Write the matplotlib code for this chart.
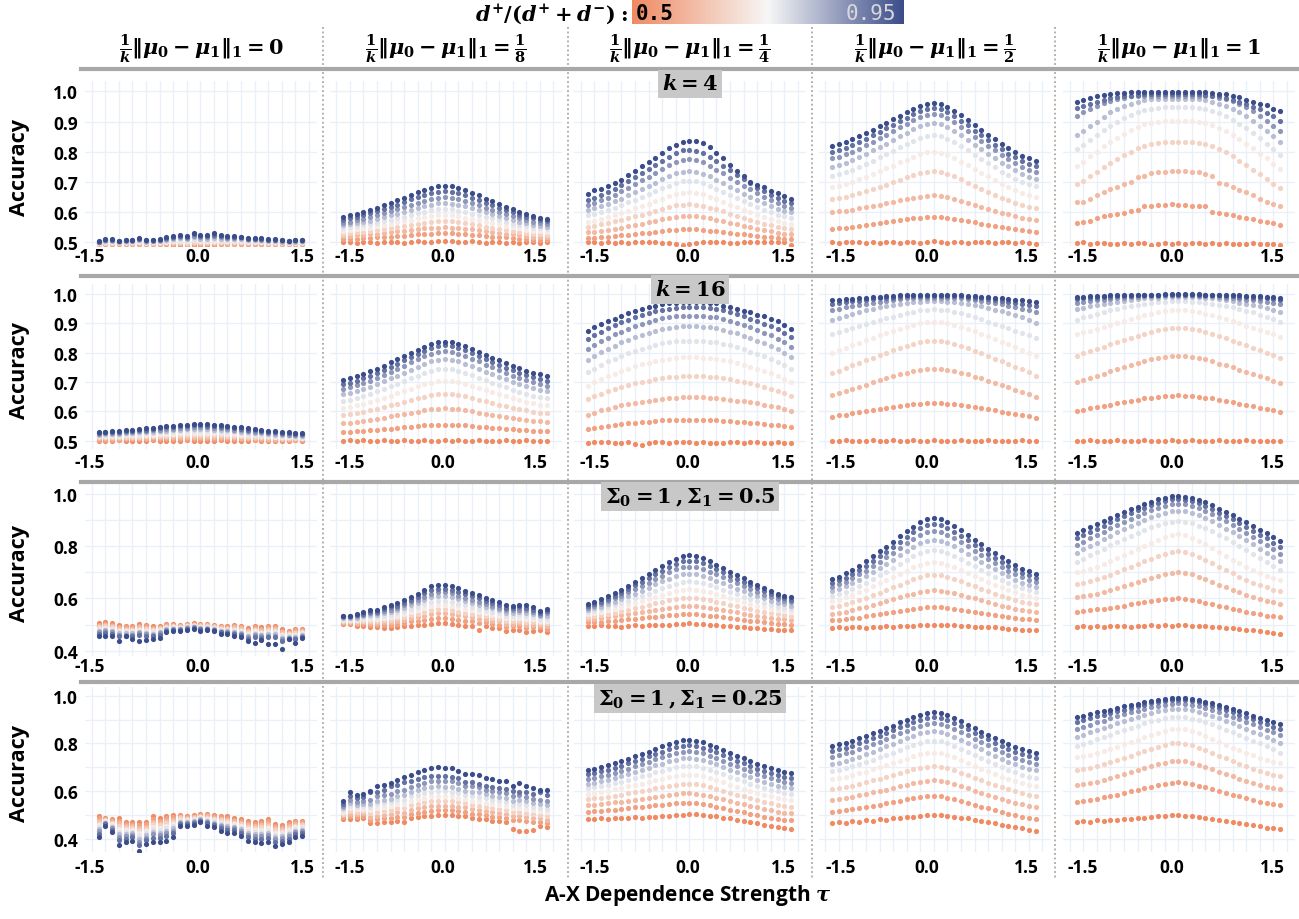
import numpy as np
import matplotlib
matplotlib.use("Agg")
import matplotlib.pyplot as plt
from matplotlib.colors import LinearSegmentedColormap
from matplotlib.lines import Line2D
from matplotlib.transforms import blended_transform_factory

plt.rcParams['font.family'] = ['Open Sans', 'DejaVu Sans']
plt.rcParams['mathtext.fontset'] = 'custom'
plt.rcParams['mathtext.rm'] = 'DejaVu Serif:bold'
plt.rcParams['mathtext.it'] = 'DejaVu Serif:italic:bold'
plt.rcParams['mathtext.bf'] = 'DejaVu Serif:bold'
plt.rcParams['axes.unicode_minus'] = False

# ---------------- data ----------------
tau = [-1.5, -1.4, -1.3, -1.2, -1.1, -1.0, -0.9, -0.8, -0.7, -0.6, -0.5, -0.4, -0.3, -0.2, -0.1,
       0.0, 0.1, 0.2, 0.3, 0.4, 0.5, 0.6, 0.7, 0.8, 0.9, 1.0, 1.1, 1.2, 1.3, 1.4, 1.5]
ratios = [0.5, 0.55, 0.6, 0.65, 0.7, 0.75, 0.8, 0.85, 0.9, 0.95]
col_titles = [r'$\frac{1}{k}\Vert\mu_0-\mu_1\Vert_1=0$',
              r'$\frac{1}{k}\Vert\mu_0-\mu_1\Vert_1=\frac{1}{8}$',
              r'$\frac{1}{k}\Vert\mu_0-\mu_1\Vert_1=\frac{1}{4}$',
              r'$\frac{1}{k}\Vert\mu_0-\mu_1\Vert_1=\frac{1}{2}$',
              r'$\frac{1}{k}\Vert\mu_0-\mu_1\Vert_1=1$']
row_labels = [r'$k=4$', r'$k=16$', r'$\Sigma_0=1\,,\Sigma_1=0.5$', r'$\Sigma_0=1\,,\Sigma_1=0.25$']
x_ticklabels = ['-1.5', '0.0', '1.5']

# accuracy values x1000, one list per ratio (0.5 ... 0.95)
k4_d0 = [
    [494,495,495,496,495,494,495,495,494,495,493,492,492,490,492,492,492,492,493,493,494,494,495,495,495,495,494,495,495,494,494],
    [495,496,496,497,496,495,496,496,495,496,495,494,494,493,494,494,494,494,494,495,495,495,496,496,496,496,495,496,496,495,495],
    [496,498,497,498,497,497,498,497,497,497,497,497,497,496,498,497,497,497,497,497,497,497,498,498,498,497,497,497,497,497,497],
    [497,499,499,499,499,499,500,498,499,499,500,500,501,499,502,500,500,501,500,500,500,500,500,500,500,499,499,498,498,498,498],
    [498,501,501,500,500,500,502,499,500,501,502,503,505,503,506,504,504,505,504,503,503,503,502,502,502,501,501,500,499,499,500],
    [499,503,503,501,502,502,505,501,501,503,505,507,509,506,511,508,508,510,508,507,507,506,505,505,504,503,503,501,500,501,501],
    [500,505,505,502,503,503,507,502,503,505,508,510,513,510,516,512,512,515,512,510,510,510,507,507,506,505,505,502,502,502,503],
    [501,507,507,503,505,505,510,504,505,507,511,514,517,514,521,516,516,520,516,514,514,513,510,510,509,507,507,504,503,504,505],
    [502,509,509,504,507,507,512,506,507,509,514,517,521,517,526,520,520,525,520,518,517,516,512,512,511,509,509,506,504,506,507],
    [503,511,511,505,508,509,514,508,509,511,517,520,525,520,530,524,524,530,524,522,520,519,514,514,513,511,511,508,505,508,509],
]
k4_d18 = [
    [500,501,499,500,501,498,500,502,500,499,501,503,500,502,504,503,504,502,501,503,500,499,501,500,498,500,499,501,500,499,500],
    [510,511,512,513,514,516,517,519,521,522,524,526,527,529,530,530,530,528,527,525,523,521,519,517,516,514,512,510,509,508,507],
    [520,521,523,525,527,529,531,534,536,538,541,543,546,548,549,550,549,548,545,543,540,537,534,531,529,526,523,521,519,517,516],
    [529,531,533,535,538,541,544,547,551,554,558,561,564,567,569,570,569,567,564,560,557,552,549,545,542,538,535,532,529,527,525],
    [538,540,543,546,549,553,557,561,566,570,574,579,583,586,589,590,589,586,582,578,573,568,564,559,555,550,546,542,539,536,534],
    [547,550,553,556,561,565,570,575,580,585,591,596,601,606,609,610,609,605,601,595,590,584,579,573,568,562,558,553,549,546,543],
    [556,559,563,567,572,577,583,589,595,601,608,614,620,625,629,630,628,624,619,613,606,599,593,587,580,574,568,563,558,554,551],
    [565,568,573,578,584,590,596,603,610,617,625,631,638,644,648,650,648,644,637,630,623,615,608,601,593,586,580,574,568,564,560],
    [575,579,584,589,596,603,610,618,625,633,642,649,657,663,668,670,668,663,656,648,640,631,623,615,607,599,592,585,579,574,570],
    [585,589,594,600,608,615,623,631,640,648,657,665,674,681,686,688,686,680,672,664,655,645,636,627,618,609,601,594,587,581,577],
]
k4_d14 = [
    [502,502,498,500,498,500,498,500,500,502,500,498,498,495,492,496,498,500,502,500,502,498,498,500,500,500,500,502,500,500,492],
    [514,515,517,519,521,523,525,528,530,532,535,537,540,542,543,544,543,542,539,537,534,531,528,526,523,521,518,516,514,512,511],
    [533,535,538,541,545,549,553,558,562,567,572,576,580,584,587,588,587,584,579,575,570,564,559,554,550,545,540,536,532,529,527],
    [552,555,559,563,569,574,580,586,592,598,605,611,617,622,625,627,625,621,615,609,602,594,588,581,574,567,561,556,551,546,543],
    [568,572,577,583,590,596,604,612,620,628,637,644,652,659,664,666,664,659,651,643,634,625,616,608,599,591,583,576,570,564,560],
    [590,595,600,607,615,623,632,641,650,660,670,679,688,696,702,704,702,695,687,677,667,656,646,636,627,617,608,599,592,586,581],
    [608,613,620,627,636,645,656,666,676,687,698,709,719,728,734,737,734,727,718,707,696,683,672,661,650,639,629,620,611,605,599],
    [625,631,639,648,658,669,681,693,705,717,731,743,755,765,773,776,773,765,753,741,728,713,700,687,675,662,650,639,629,621,615],
    [641,648,656,666,678,689,702,716,729,742,757,770,784,795,804,807,803,795,782,768,754,738,724,710,695,681,669,657,646,637,630],
    [660,674,676,687,696,707,723,737,752,765,778,796,811,822,831,835,834,829,815,795,778,756,737,719,701,690,682,671,663,654,643],
]
k4_d12 = [
    [500,498,501,500,502,499,500,497,501,500,498,500,502,499,500,503,500,498,500,501,499,500,502,500,499,501,500,498,500,497,495],
    [545,547,549,551,554,557,560,563,566,569,573,576,579,582,584,585,584,582,578,574,570,566,562,558,554,550,546,543,540,537,535],
    [600,602,605,608,612,616,620,625,629,634,639,643,647,651,654,655,653,649,644,637,631,624,617,611,605,598,593,587,582,578,575],
    [642,646,650,656,662,669,676,684,691,699,707,715,722,729,733,735,733,726,718,708,698,687,677,667,658,648,639,630,623,617,612],
    [683,688,694,701,709,717,726,736,745,754,765,774,784,792,798,800,797,790,779,767,755,742,730,718,706,694,683,673,664,656,650],
    [720,725,732,740,750,759,770,781,792,802,815,825,836,846,852,855,852,843,831,818,804,789,775,762,748,734,722,711,700,692,685],
    [750,756,763,772,782,792,804,815,827,838,852,863,875,885,892,895,891,882,869,854,840,823,808,793,778,764,751,738,727,717,710],
    [778,784,791,800,810,821,832,844,856,868,881,893,904,915,922,925,921,912,898,883,867,850,835,819,804,789,775,762,750,741,733],
    [800,806,813,822,832,842,854,865,877,888,902,913,925,935,942,945,941,932,918,903,887,870,854,839,823,808,794,781,769,760,752],
    [820,826,833,841,851,861,873,884,895,907,919,931,942,952,959,962,958,949,935,920,904,887,872,856,841,826,812,799,787,778,770],
]
k4_d1 = [
    [497,500,495,498,497,496,495,497,493,498,497,492,493,497,495,497,496,497,497,496,497,494,497,495,495,496,497,493,495,494,490],
    [564,568,572,579,586,590,594,597,605,608,621,621,624,624,627,624,624,621,621,621,601,597,594,590,583,579,577,572,568,564,558],
    [632,634,644,655,666,677,682,693,701,715,721,728,732,734,735,737,735,734,732,726,721,696,693,682,674,666,655,644,632,627,621],
    [693,704,719,732,748,763,776,789,800,811,820,825,829,831,831,831,831,831,829,825,818,809,798,785,770,756,740,726,710,693,679],
    [754,767,785,800,818,831,845,859,872,883,891,896,900,903,903,903,903,903,900,896,889,880,869,856,841,827,811,794,778,759,743],
    [809,823,840,855,872,886,899,911,922,930,938,942,946,947,947,947,947,947,946,942,936,928,917,905,891,877,862,845,827,809,790],
    [855,869,886,900,916,930,941,951,959,966,970,973,975,975,975,975,975,975,973,970,966,959,950,941,930,917,903,886,869,851,831],
    [919,930,941,952,961,969,975,979,983,985,986,986,986,986,986,986,986,986,986,985,983,979,975,967,958,947,934,919,903,886,869],
    [944,952,958,966,972,977,980,983,986,988,990,991,992,992,992,992,992,991,990,988,986,983,978,972,965,957,948,940,928,917,903],
    [964,971,977,983,988,991,993,995,997,997,997,997,997,997,997,997,997,997,997,997,994,992,990,985,980,972,964,958,953,942,934],
]
k16_d0 = [
    [500,499,500,501,500,499,500,500,501,500,499,500,500,501,500,500,499,500,501,500,500,499,500,501,500,500,499,500,500,501,500],
    [504,504,504,504,505,505,505,505,506,506,506,506,507,507,507,507,507,507,506,506,505,505,505,504,504,503,503,503,502,502,502],
    [508,508,508,509,509,509,510,510,511,511,512,512,512,513,513,513,513,512,512,511,511,510,509,509,508,507,507,506,506,505,505],
    [511,511,512,512,513,514,514,515,516,516,517,518,519,519,520,520,520,519,518,517,516,515,514,513,512,511,511,510,509,508,508],
    [515,515,516,517,518,518,519,520,521,522,523,524,525,526,527,527,527,526,525,523,522,520,519,518,516,515,514,513,512,511,510],
    [518,519,519,520,522,523,524,525,526,528,529,530,532,533,534,534,534,533,531,529,528,526,524,522,521,519,518,516,515,514,513],
    [521,522,523,524,525,527,528,530,531,533,534,536,537,539,540,540,540,538,537,535,533,531,529,527,525,523,521,520,518,517,516],
    [524,525,526,527,529,530,532,534,536,537,539,541,543,544,546,546,545,544,542,540,538,535,533,531,529,527,525,523,521,520,519],
    [527,528,529,531,533,534,536,538,540,542,545,547,549,550,552,552,551,550,548,545,543,540,538,536,533,531,529,527,525,523,522],
    [530,531,532,534,536,538,540,542,544,546,549,551,553,555,556,557,556,555,553,550,547,545,542,539,537,534,532,530,528,526,525],
]
k16_d18 = [
    [500,502,499,501,498,500,503,499,500,501,498,500,502,500,499,501,500,502,499,500,501,499,500,498,501,500,499,502,500,499,498],
    [530,531,532,534,536,537,539,541,543,545,548,550,552,553,555,555,555,553,552,550,548,546,544,542,541,539,537,535,534,533,532],
    [560,562,565,568,571,575,579,583,587,591,595,599,603,607,609,610,609,607,604,600,596,592,588,585,581,577,574,571,568,566,564],
    [587,590,594,598,603,608,614,620,626,632,638,644,650,655,659,660,659,655,651,645,640,634,629,623,618,612,608,603,599,596,593],
    [612,616,620,626,632,639,646,654,661,669,677,685,692,698,703,705,703,699,693,686,680,672,665,658,651,645,639,633,628,623,620],
    [636,640,646,652,660,668,676,685,694,702,712,721,730,737,743,745,743,738,731,723,715,706,698,690,682,674,667,660,654,649,645],
    [658,663,669,676,684,693,702,712,722,731,742,752,761,770,776,778,776,770,763,754,745,735,726,718,709,700,692,685,678,672,668],
    [677,682,689,696,705,714,724,735,745,755,767,777,787,796,802,805,803,797,789,779,770,759,750,741,731,722,714,706,699,693,688],
    [693,698,705,713,722,731,742,752,763,774,785,796,807,816,822,825,823,817,808,799,789,778,769,759,749,740,731,723,716,710,705],
    [708,713,720,728,737,746,756,767,777,787,799,809,820,829,835,838,836,830,822,812,803,793,783,774,765,756,748,739,732,727,722],
]
k16_d14 = [
    [492,494,494,494,493,493,494,490,487,493,494,494,493,494,495,494,493,497,492,492,493,494,494,493,494,494,493,493,494,492,492],
    [540,544,547,551,553,556,559,561,563,565,567,569,569,570,571,571,571,571,570,569,568,567,565,563,561,559,557,554,552,549,545],
    [589,596,603,609,614,620,624,629,633,637,640,643,645,647,648,648,648,648,647,645,643,640,637,634,631,627,623,619,614,608,602],
    [642,651,660,669,676,683,689,695,701,705,710,714,716,718,720,720,720,719,718,716,713,709,705,700,695,689,683,677,670,662,653],
    [688,700,710,721,729,738,746,753,760,766,772,776,779,782,784,784,784,783,781,779,775,770,764,759,752,745,737,730,721,711,699],
    [733,746,758,770,779,789,798,806,814,820,827,832,836,839,841,841,841,840,838,835,830,825,819,812,804,796,788,779,769,758,744],
    [775,789,801,814,824,835,844,853,861,868,875,881,884,888,890,890,890,889,887,884,878,872,866,858,850,841,832,822,812,799,784],
    [813,827,839,851,862,872,881,890,898,905,911,917,920,924,926,926,926,925,923,920,914,908,902,895,886,878,868,859,848,836,821],
    [847,860,872,884,893,903,912,920,928,934,941,946,950,953,955,955,955,954,952,949,944,938,932,924,916,908,899,890,880,867,853],
    [875,887,898,909,915,926,934,943,949,955,960,966,968,969,972,972,972,972,969,968,960,955,949,943,938,928,924,915,907,895,881],
]
k16_d12 = [
    [500,499,501,500,498,500,501,499,500,502,500,499,501,500,500,502,500,499,500,501,500,498,500,501,499,500,500,499,501,500,498],
    [582,586,589,593,597,601,604,608,611,615,618,621,624,626,628,628,628,626,624,621,618,614,611,607,603,599,595,591,587,583,578],
    [655,662,669,677,684,691,699,706,713,719,726,732,736,741,744,745,744,741,737,732,726,718,712,705,697,689,682,674,667,659,650],
    [730,739,748,757,766,775,783,792,800,808,816,824,830,835,839,840,839,835,830,823,816,807,799,790,780,771,762,752,743,733,722],
    [800,808,817,826,834,843,851,859,867,875,882,889,895,900,904,905,904,900,895,889,882,873,865,856,847,838,829,819,810,800,790],
    [862,869,876,883,890,897,904,911,917,923,930,935,940,944,947,948,947,944,940,934,928,921,914,906,899,891,883,875,867,859,850],
    [910,918,925,932,938,944,949,954,959,963,967,970,972,974,975,975,975,974,973,971,967,962,958,953,947,941,934,927,920,911,900],
    [945,950,955,960,963,967,971,974,977,980,982,985,986,987,988,988,988,987,986,985,982,979,976,973,969,965,960,955,950,944,937],
    [965,968,972,975,977,980,982,985,987,988,990,992,993,993,994,994,994,994,993,992,990,988,986,983,980,977,974,971,967,963,958],
    [978,980,982,984,986,988,989,991,992,993,995,995,996,997,997,997,997,997,996,996,994,993,991,990,988,986,983,981,979,976,972],
]
k16_d1 = [
    [499,500,502,500,499,500,501,500,498,500,501,499,500,500,502,500,499,501,500,499,500,502,500,499,500,501,500,498,500,500,499],
    [602,606,610,615,619,623,628,632,636,640,644,647,650,653,654,655,654,653,650,647,644,639,635,631,626,622,617,613,608,603,598],
    [700,707,714,722,729,736,744,751,758,764,771,777,781,786,789,790,789,786,782,777,771,763,757,750,742,734,727,719,712,704,695],
    [790,798,805,813,821,828,836,844,851,857,865,871,876,881,884,885,884,881,876,871,864,856,849,841,833,825,817,808,800,791,782],
    [862,869,875,882,889,896,902,909,915,921,927,933,937,941,944,945,944,941,937,932,927,920,914,907,900,892,885,878,871,863,855],
    [912,920,926,933,939,945,950,955,959,963,967,970,972,974,975,975,975,974,973,971,967,963,959,954,948,943,937,930,923,915,905],
    [948,953,958,962,966,970,973,977,980,982,985,987,988,989,990,990,990,990,989,987,985,982,979,975,971,967,963,958,953,947,940],
    [970,973,976,979,981,983,985,987,989,990,992,993,994,995,995,995,995,995,994,993,992,990,988,986,984,981,979,976,973,969,965],
    [983,985,986,988,989,991,992,993,994,995,996,997,997,998,998,998,998,998,997,997,996,995,994,993,991,990,988,986,985,983,980],
    [990,991,992,993,994,995,995,996,997,997,998,998,998,999,999,999,999,999,999,998,998,997,996,996,995,994,993,992,991,990,988],
]
s05_d0 = [
    [505,509,505,498,496,496,502,498,493,496,502,502,498,502,505,502,502,498,496,496,498,496,486,496,489,496,496,483,477,483,483],
    [500,504,500,492,491,491,496,493,488,491,498,499,496,500,503,499,499,495,492,492,493,491,481,490,484,490,490,477,473,478,479],
    [494,498,494,486,485,485,490,487,483,486,495,496,493,497,500,497,497,493,489,488,489,486,475,484,478,484,484,471,469,472,474],
    [489,493,489,481,480,480,485,482,478,482,491,493,490,495,498,494,494,490,485,485,484,481,470,479,473,478,478,465,464,467,470],
    [484,488,484,476,475,475,480,477,474,478,488,490,488,493,496,492,492,488,482,481,481,477,465,474,468,473,473,460,461,462,466],
    [480,484,480,471,471,471,475,473,470,474,485,487,486,491,494,490,490,486,479,478,477,473,461,469,464,468,468,455,457,458,463],
    [475,479,475,466,466,466,470,468,465,470,482,485,484,489,492,488,488,484,476,475,473,468,456,464,459,463,463,450,454,453,459],
    [471,475,471,462,462,462,466,464,461,466,479,482,482,487,490,485,485,481,473,472,469,464,452,460,455,458,458,445,450,449,456],
    [465,469,465,456,456,456,460,458,456,461,476,479,480,484,487,483,483,479,470,468,465,459,446,454,449,452,452,439,446,443,451],
    [457,457,457,438,457,445,438,442,445,447,470,474,477,480,483,477,479,477,464,464,457,451,438,429,442,426,426,406,445,429,447],
]
s05_d18 = [
    [502,502,496,496,490,490,486,486,490,493,496,498,498,502,506,506,502,498,496,496,480,493,486,486,477,480,480,473,477,480,473],
    [506,506,502,503,499,499,498,498,503,507,512,515,517,522,526,526,523,518,515,513,507,508,501,500,491,493,493,487,489,490,485],
    [510,510,507,509,507,507,508,509,514,519,525,529,533,540,544,544,540,535,531,528,522,521,514,512,502,504,505,500,500,499,496],
    [514,514,512,515,514,514,517,519,524,530,537,542,548,556,560,560,556,550,546,542,536,533,526,523,513,514,515,511,510,507,505],
    [517,517,517,520,522,522,526,529,534,541,549,555,563,572,576,576,573,566,560,556,549,545,538,534,524,524,526,522,520,515,515],
    [521,521,522,526,528,528,534,538,543,552,560,567,577,586,591,591,587,580,574,568,561,556,549,543,534,533,535,532,529,522,523],
    [524,524,527,532,536,536,544,548,554,564,574,581,593,604,608,608,605,597,590,583,576,569,562,555,546,544,547,544,539,531,534],
    [528,528,531,537,543,543,552,557,564,574,585,593,607,618,623,623,620,611,603,595,588,579,573,565,555,554,556,555,548,538,543],
    [531,531,536,542,549,549,561,566,573,584,596,605,620,633,637,637,634,625,617,608,601,590,584,575,565,563,566,565,557,546,551],
    [534,534,540,547,556,556,569,575,582,594,607,617,634,647,652,652,649,639,630,620,613,601,595,585,575,572,575,575,566,553,560],
]
s05_d14 = [
    [495,493,497,494,496,492,495,498,496,499,497,500,498,502,503,505,504,502,500,498,496,494,492,490,488,486,484,483,480,481,478],
    [508,509,511,513,515,517,520,522,525,528,530,533,536,538,539,540,539,537,534,531,528,524,521,518,515,512,509,506,504,502,500],
    [520,522,525,528,531,535,539,543,548,552,556,561,565,568,571,572,571,568,564,560,556,551,547,542,538,534,530,526,523,520,518],
    [530,533,537,541,546,551,557,563,569,575,581,587,593,598,602,603,602,598,593,588,582,576,570,565,559,553,548,544,539,536,533],
    [540,544,549,554,561,568,575,583,590,598,607,614,622,628,633,635,633,629,623,616,609,601,594,587,580,573,566,560,555,551,547],
    [548,553,559,566,574,582,591,601,610,619,630,639,649,657,663,665,663,658,650,642,634,624,616,607,599,590,583,576,569,564,560],
    [557,563,569,578,587,597,608,619,630,641,654,665,676,685,692,695,693,686,678,668,658,647,638,628,618,608,600,591,584,578,573],
    [565,571,579,589,600,611,623,636,648,661,675,687,700,711,719,722,719,712,703,692,681,669,658,647,636,625,615,606,597,590,585],
    [572,579,588,598,610,622,636,650,664,678,693,707,721,733,742,745,742,735,724,712,700,687,675,663,651,639,628,618,609,601,595],
    [580,587,597,608,621,634,648,663,678,693,710,724,739,752,761,765,762,754,743,730,717,703,690,677,664,651,640,629,619,611,605],
]
s05_d12 = [
    [488,490,486,489,491,488,492,490,493,491,494,496,495,498,499,500,499,497,498,495,494,492,491,489,490,487,485,483,481,480,478],
    [516,518,521,524,527,531,535,539,544,548,552,557,561,564,567,568,567,565,561,557,553,549,545,540,537,533,529,526,523,520,518],
    [542,546,550,556,562,568,575,583,590,597,605,612,619,626,630,632,630,626,620,614,607,600,593,586,580,573,567,561,556,552,549],
    [567,572,578,585,594,603,613,622,632,642,653,663,673,681,688,690,688,682,674,665,656,646,637,628,619,610,602,594,587,582,577],
    [590,596,604,613,623,634,646,658,670,682,695,707,719,730,737,740,737,730,721,710,699,686,675,664,653,642,632,623,614,608,602],
    [610,617,626,636,649,661,675,689,703,717,733,747,761,773,782,785,782,774,763,750,737,723,710,697,684,671,660,649,639,631,625],
    [628,636,646,658,671,685,701,717,732,748,766,782,797,811,821,825,821,812,800,785,771,755,740,726,712,697,685,672,661,652,645],
    [645,654,664,677,692,707,724,741,758,775,794,811,828,843,854,858,854,844,831,815,800,782,767,751,736,720,707,693,681,672,664],
    [660,669,680,694,710,725,743,761,779,797,818,836,854,869,881,885,881,871,856,840,824,805,789,772,756,739,725,711,698,688,680],
    [675,684,696,710,726,743,761,780,798,817,838,857,875,892,903,908,904,893,878,861,844,825,808,791,774,757,742,727,714,704,695],
]
s05_d1 = [
    [492,494,490,493,491,495,493,494,492,496,494,497,495,498,496,498,497,496,494,495,492,490,488,486,484,480,478,475,472,468,465],
    [550,552,555,558,561,565,569,573,577,581,585,589,593,597,599,600,599,595,590,584,578,572,566,560,555,549,544,539,534,531,528],
    [605,609,614,619,626,633,640,648,655,663,672,679,687,693,698,700,698,692,683,674,664,653,644,634,624,615,606,598,591,585,580],
    [655,660,666,674,683,691,701,711,721,731,743,753,763,771,778,780,777,769,759,747,734,721,709,696,684,672,661,651,642,634,628],
    [700,706,713,722,732,742,754,765,777,788,802,813,825,835,842,845,842,833,821,807,793,777,763,749,735,721,709,696,686,677,670],
    [740,752,765,778,790,803,815,828,839,850,862,872,880,888,893,895,893,888,879,869,858,843,830,816,801,786,771,756,741,725,708],
    [775,788,801,814,827,840,853,865,877,889,901,911,920,928,933,935,933,927,919,908,896,881,867,853,838,822,807,791,776,759,742],
    [805,818,830,843,856,869,881,894,905,916,928,938,947,955,960,962,960,954,946,935,924,909,896,881,866,851,836,820,805,789,772],
    [830,842,854,867,879,891,903,915,926,937,948,958,966,973,979,980,978,973,965,955,944,929,916,903,888,874,859,844,830,814,798],
    [850,861,873,885,896,908,919,930,941,951,961,971,979,986,991,992,990,985,977,968,958,944,932,919,905,891,878,864,850,835,820],
]
s025_d0 = [
    [495,487,484,487,470,470,472,470,495,487,498,500,500,498,500,505,505,500,498,495,487,484,477,472,477,484,463,459,470,477,477],
    [486,484,478,476,462,462,460,461,484,477,487,491,495,494,496,501,500,495,492,488,481,477,469,463,468,474,454,451,462,470,471],
    [477,481,473,465,453,455,448,452,473,467,477,481,491,490,492,498,495,490,485,481,475,469,460,455,458,464,445,443,453,463,464],
    [469,478,467,453,445,447,436,443,462,457,466,472,486,485,488,494,490,485,479,474,468,462,452,446,449,455,436,435,445,456,458],
    [460,475,462,442,436,439,424,434,451,447,456,463,481,481,484,491,485,480,473,467,462,455,443,438,439,445,427,427,436,449,452],
    [451,471,456,431,428,431,411,424,440,436,445,453,476,477,479,487,480,474,466,460,456,447,435,429,430,435,417,419,428,442,445],
    [442,468,450,420,420,424,399,415,430,426,435,444,472,473,475,484,476,469,460,453,450,440,427,420,421,425,408,411,420,435,439],
    [433,465,445,409,411,416,387,406,419,416,424,435,467,469,471,480,471,464,454,446,444,433,418,412,411,415,399,403,411,428,433],
    [423,462,438,395,401,407,373,395,406,404,412,424,461,464,466,476,465,458,446,438,436,424,408,401,400,404,388,393,401,420,425],
    [407,456,428,375,386,393,351,379,386,386,393,407,453,456,459,470,456,449,435,425,425,411,393,386,383,386,372,379,386,407,414],
]
s025_d18 = [
    [484,484,484,487,467,467,470,472,477,472,487,491,495,498,500,500,500,498,498,487,484,484,477,477,470,442,435,435,439,456,449],
    [491,495,494,497,481,483,486,488,494,491,505,510,515,518,520,520,520,517,515,506,503,501,494,494,487,481,479,476,473,471,465],
    [499,506,504,507,494,498,501,504,511,509,523,529,534,538,540,539,539,536,533,524,521,518,512,510,504,497,496,493,489,486,480],
    [506,517,514,517,508,514,517,521,528,528,541,547,554,558,560,559,559,554,550,543,540,535,529,527,521,512,514,509,504,501,496],
    [514,528,524,527,521,529,533,537,545,546,559,566,573,578,580,579,578,573,568,561,558,552,547,544,538,528,531,525,520,516,511],
    [521,540,534,538,535,545,549,553,562,565,578,585,593,598,600,599,598,592,585,580,577,570,564,561,556,544,548,542,535,531,527],
    [528,551,544,548,548,561,564,569,579,584,596,604,612,618,620,618,618,611,602,598,595,587,581,577,573,560,565,558,550,545,543],
    [537,564,556,560,564,579,583,589,599,606,617,626,635,642,644,642,641,633,623,620,617,607,602,597,593,579,586,577,569,563,561],
    [545,580,570,575,595,598,605,623,627,637,644,651,661,665,665,662,661,654,637,637,630,623,619,612,609,602,595,595,588,595,584],
    [558,595,584,588,602,623,627,634,647,658,668,679,690,698,700,697,696,686,672,672,669,655,651,644,641,623,634,623,612,605,605],
]
s025_d14 = [
    [485,482,488,484,487,490,486,491,489,494,492,497,495,500,502,505,503,501,498,495,490,486,480,475,470,465,460,455,450,446,440],
    [515,516,518,521,523,526,529,532,535,538,541,544,547,549,551,552,551,547,542,536,530,523,517,511,505,499,494,489,485,481,478],
    [542,544,547,550,553,557,561,565,569,573,577,581,585,589,591,592,590,586,580,573,567,559,552,545,538,532,526,520,515,510,507],
    [567,570,573,577,581,586,591,596,601,607,613,618,623,627,631,632,630,625,618,611,603,594,586,579,571,563,556,550,544,539,535],
    [590,593,597,602,608,613,620,626,632,639,646,652,659,664,668,670,668,662,655,646,638,628,619,611,602,593,586,578,572,566,562],
    [612,616,621,626,633,640,647,655,662,670,679,686,694,700,705,707,705,699,690,681,671,661,651,642,632,623,614,606,599,593,588],
    [632,636,642,648,656,663,672,681,689,698,708,716,725,732,738,740,737,731,722,712,702,690,680,670,659,649,640,631,624,617,612],
    [652,657,662,669,678,686,695,704,713,723,733,742,752,760,766,768,765,759,749,739,728,716,705,695,684,674,664,655,647,640,635],
    [672,677,683,690,699,707,717,726,736,746,757,766,776,785,791,793,790,783,774,763,752,739,728,717,706,695,685,676,667,661,655],
    [690,695,701,709,718,726,736,746,756,766,778,788,798,806,813,815,812,805,795,784,773,760,749,738,727,716,706,696,688,681,675],
]
s025_d12 = [
    [468,472,466,474,470,478,475,482,480,486,488,492,494,497,499,500,499,497,494,490,486,481,476,470,466,460,455,450,445,438,432],
    [515,518,521,525,529,534,539,544,549,555,561,566,571,575,579,580,578,573,567,559,552,543,535,528,520,513,506,499,494,489,485],
    [565,568,572,577,583,588,595,601,607,614,621,627,634,639,643,645,643,637,630,621,612,602,593,585,576,567,559,552,545,539,535],
    [610,614,619,624,631,638,645,653,660,668,677,684,692,698,703,705,703,696,688,678,668,656,646,636,626,616,608,599,591,585,580],
    [650,654,660,667,675,682,691,700,709,718,728,737,746,754,760,762,759,752,742,731,719,707,695,684,673,661,651,641,633,626,620],
    [685,690,696,704,713,722,732,742,752,762,774,784,794,803,809,812,809,801,790,777,765,751,738,726,713,701,690,679,669,661,655],
    [715,720,727,736,745,755,766,777,788,799,811,822,833,842,849,852,849,841,829,816,803,788,775,762,749,736,724,713,703,695,688],
    [745,751,758,766,776,786,797,808,819,830,843,854,865,875,882,885,882,873,861,848,834,819,805,792,778,764,752,741,730,722,715],
    [770,776,783,791,801,811,822,833,844,855,868,879,890,900,907,910,907,898,886,873,859,844,830,817,803,789,777,766,755,747,740],
    [790,796,803,811,821,831,842,853,864,875,888,899,910,920,927,930,927,918,906,893,879,864,850,837,823,809,797,786,775,767,760],
]
s025_d1 = [
    [472,476,470,478,475,480,478,484,482,488,490,493,495,498,499,500,498,496,493,489,485,480,476,472,468,463,458,455,448,446,440],
    [556,559,563,568,574,579,586,592,599,605,613,619,626,631,635,637,635,630,624,616,609,600,593,585,578,570,564,557,551,547,543],
    [625,629,634,640,647,655,663,671,679,687,696,705,713,720,725,727,725,719,710,701,691,681,671,662,652,643,634,626,619,613,608],
    [688,693,698,705,713,721,730,739,748,758,768,777,786,794,800,802,799,792,783,772,761,749,738,727,716,705,695,686,677,670,665],
    [742,747,753,760,768,777,786,796,806,815,826,836,845,854,860,862,859,852,842,830,819,806,794,783,771,760,750,740,731,724,718],
    [788,798,808,818,828,837,847,857,866,875,884,892,898,905,909,910,909,904,897,889,880,869,858,847,835,823,812,800,788,775,762],
    [828,837,847,857,866,875,885,894,903,911,920,927,934,940,944,945,944,939,933,925,916,905,895,884,873,861,850,838,827,815,802],
    [862,870,879,888,896,905,913,922,930,937,945,952,958,963,967,968,967,963,957,949,941,931,921,911,901,890,880,869,858,847,835],
    [890,897,905,913,920,927,935,942,949,955,962,968,973,978,981,982,981,977,972,965,958,948,939,930,920,911,901,891,881,871,860],
    [910,916,923,930,936,942,949,955,961,967,973,978,982,986,989,990,989,986,981,975,968,959,952,943,934,926,917,908,899,890,880],
]

panels = [[k4_d0, k4_d18, k4_d14, k4_d12, k4_d1],
          [k16_d0, k16_d18, k16_d14, k16_d12, k16_d1],
          [s05_d0, s05_d18, s05_d14, s05_d12, s05_d1],
          [s025_d0, s025_d18, s025_d14, s025_d12, s025_d1]]

# ---------------- layout ----------------
W, H = 1299, 920
fig = plt.figure(figsize=(W / 100, H / 100), dpi=100)


def fx(px):
    return px / W


def fy(py):
    return 1 - py / H


cmap = LinearSegmentedColormap.from_list('dd', ['#EF8A62', '#F7F7F7', '#3B4C8A'])

col_left = [85, 329.5, 574, 818.5, 1063]
col_w = 232
row_top = [81.7, 285, 485, 688]
row_bot = [247, 450, 656.7, 853]
row_ref = [(92.3, 1.0, 243.3, 0.5), (295, 1.0, 441.7, 0.5), (495, 1.0, 651.7, 0.4), (696.7, 1.0, 840, 0.4)]
row_yticks = [[0.5, 0.6, 0.7, 0.8, 0.9, 1.0], [0.5, 0.6, 0.7, 0.8, 0.9, 1.0],
              [0.4, 0.6, 0.8, 1.0], [0.4, 0.6, 0.8, 1.0]]
row_ygrid = [[0.5, 0.6, 0.7, 0.8, 0.9, 1.0], [0.5, 0.6, 0.7, 0.8, 0.9, 1.0],
             [0.4, 0.5, 0.6, 0.7, 0.8, 0.9, 1.0], [0.4, 0.5, 0.6, 0.7, 0.8, 0.9, 1.0]]
xtick_pos = [(-1.63, -0.04, 1.50), (-1.40, -0.03, 1.33), (-1.40, -0.02, 1.39),
             (-1.38, -0.10, 1.37), (-1.41, -0.10, 1.38)]
xtick_y = [257, 463, 666.7, 868.3]
xgrid = [-1.6, -1.4, -1.2, -1.0, -0.8, -0.6, -0.4, -0.2, 0.0, 0.2, 0.4, 0.6, 0.8, 1.0, 1.2, 1.4, 1.6]
GRID = '#EBF0F8'

for r in range(4):
    ya, va, yb, vb = row_ref[r]
    scale = (yb - ya) / (va - vb)
    ylo = va - (row_bot[r] - ya) / scale
    yhi = va + (ya - row_top[r]) / scale
    for c in range(5):
        ax = fig.add_axes([fx(col_left[c]), fy(row_bot[r]), col_w / W, (row_bot[r] - row_top[r]) / H])
        ax.set_xlim(-1.70, 1.72)
        ax.set_ylim(ylo, yhi)
        for s in ax.spines.values():
            s.set_visible(False)
        ax.set_xticks(xgrid)
        ax.set_yticks(row_ygrid[r])
        ax.grid(True, color=GRID, lw=1.0, zorder=0)
        ax.set_axisbelow(True)
        ax.tick_params(length=0, labelbottom=False)
        if c == 0:
            ax.set_yticklabels([f'{v:.1f}' if any(abs(v - t) < 1e-6 for t in row_yticks[r]) else ''
                                for v in row_ygrid[r]])
            ax.tick_params(axis='y', pad=5, labelsize=12.5)
            for lab in ax.get_yticklabels():
                lab.set_fontweight('bold')
        else:
            ax.set_yticklabels([])
        data = panels[r][c]
        for i, series in enumerate(data):
            vals = np.array(series) / 1000.0
            ax.scatter(tau[:len(vals)], vals, s=14, color=cmap(i / 9), linewidths=0, zorder=3)
        tr = blended_transform_factory(ax.transData, fig.transFigure)
        for pos, lab in zip(xtick_pos[c], x_ticklabels):
            ax.text(pos, fy(xtick_y[r]), lab, transform=tr, ha='center', va='center',
                    fontsize=12.5, fontweight='bold', clip_on=False)
    fig.text(fx(20), fy((row_top[r] + row_bot[r]) / 2 + 3), 'Accuracy', rotation=90,
             ha='center', va='center', fontsize=15.5, fontweight='bold')

# row separators
for y in [70, 276.7, 482.7, 683.3]:
    fig.add_artist(Line2D([fx(81), 1.0], [fy(y), fy(y)], lw=3.0, color='#A8A8A8'))
# column separators
for x in [323, 567.5, 812, 1055]:
    fig.add_artist(Line2D([fx(x), fx(x)], [fy(28), fy(880)], lw=1.3, color='#A8A8A8',
                          linestyle=(0, (1, 1.5))))

# column titles
for c in range(5):
    fig.text(fx(col_left[c] + col_w / 2), fy(49), col_titles[c], ha='center', va='center', fontsize=15)

# row labels
for r, y in enumerate([85, 290.5, 497.5, 699.5]):
    fig.text(fx(690), fy(y), row_labels[r], ha='center', va='center', fontsize=15,
             bbox=dict(facecolor='#C8C8C8', edgecolor='none', pad=2.5))

# colour bar
cax = fig.add_axes([fx(631.7), fy(25), (903.3 - 631.7) / W, 25 / H])
cax.imshow(np.linspace(0, 1, 256)[None, :], aspect='auto', cmap=cmap, extent=[0, 1, 0, 1])
cax.axis('off')
cax.text(0.086, 0.45, f'{ratios[0]:g}', transform=cax.transAxes, ha='center', va='center',
         fontsize=15, fontweight='bold', family='DejaVu Sans Mono', color='black')
cax.text(0.881, 0.45, f'{ratios[-1]:g}', transform=cax.transAxes, ha='center', va='center',
         fontsize=15, family='DejaVu Sans Mono', color='#D8D8D8')
fig.text(fx(628), fy(15), r'$d^{+}/(d^{+}+d^{-}):$', ha='right', va='center', fontsize=15)

# x label
fig.text(fx(688), fy(896), r'A-X Dependence Strength $\tau$', ha='center', va='center',
         fontsize=15, fontweight='bold')

fig.savefig('out.png', dpi=100)
